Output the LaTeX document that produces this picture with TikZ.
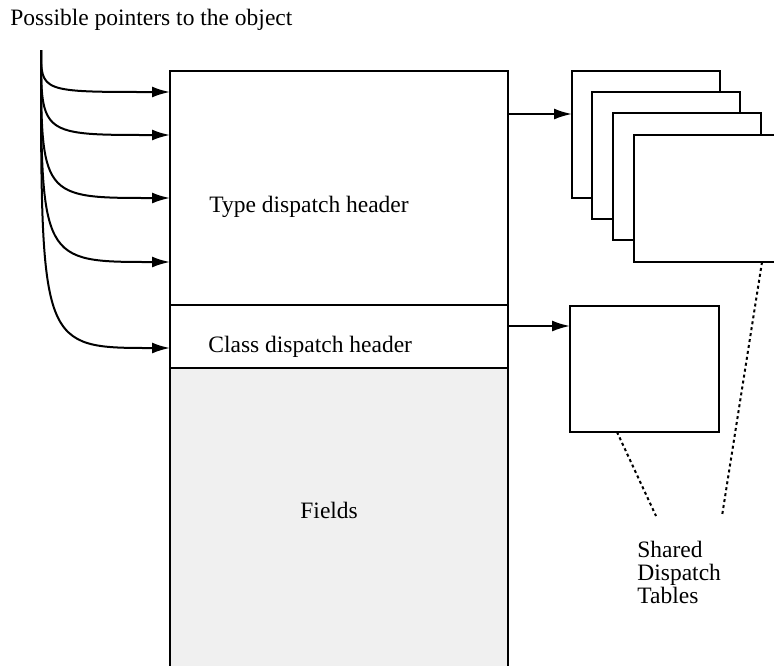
\documentclass[tikz,border=0pt]{standalone}
\usepackage{fontspec}
\setmainfont{Liberation Serif}
\usetikzlibrary{positioning,arrows.meta}
\definecolor{fieldgray}{HTML}{F0F0F0}
\tikzset{part/.style={draw,line width=1pt,inner sep=0pt,outer sep=0pt,anchor=north west,minimum width=169pt}}
\tikzset{dtable/.style={draw,fill=white,line width=1pt,inner sep=0pt,outer sep=0pt,anchor=north west,minimum width=74pt,minimum height=63.5pt}}
\tikzset{txt/.style={inner sep=0pt,anchor=base west,font=\fontsize{11.75}{11.5}\selectfont}}
\tikzset{ptr/.style={-{Latex[length=9pt,width=5.5pt]},line width=1pt}}
\tikzset{share/.style={line width=1pt,dash pattern=on 1.5pt off 1.5pt}}

\begin{document}
\begin{tikzpicture}[x=0.5pt,y=-0.5pt]
    \useasboundingbox (0,0) rectangle (774,665);
    \node (toptxt) [txt] at (10,25) {Possible pointers to the object};

    % the object
    \node (fields) [part,fill=fieldgray,minimum height=166pt] at (170,368) {};
    \node (classhdr) [part,minimum height=31.5pt] at (170,305) {};
    \node (typehdr) [part,minimum height=117pt] at (170,71) {};
    \node (typetxt) [txt] at (209,212) {Type dispatch header};
    \node (classtxt) [txt] at (208,352) {Class dispatch header};
    \node (fieldstxt) [txt] at (300,518) {Fields};

    % pointers
    \coordinate (src) at (41,50);
    \foreach \y in {92,135,198,262}
        \draw [ptr] (src) .. controls (41,\y) .. (typehdr.west |- 0,\y);
    \draw [ptr] (src) .. controls (41,348) .. (classhdr.west |- 0,348);

    % dispatch tables
    \node (tab1) [dtable] at (572,71) {};
    \node (tab2) [dtable] at ([shift={(10pt,-10.5pt)}]tab1.north west) {};
    \node (tab3) [dtable] at ([shift={(10.5pt,-10.5pt)}]tab2.north west) {};
    \node (tab4) [dtable] at ([shift={(10.5pt,-11pt)}]tab3.north west) {};
    \node (cls) [dtable,minimum width=74.5pt,minimum height=63pt] at (570,306) {};

    \draw [ptr] (typehdr.east |- 0,114) -- (tab1.west |- 0,114);
    \draw [ptr] (classhdr.east |- 0,326) -- (cls.west |- 0,326);

    \coordinate (shareL) at (656,516);
    \coordinate (shareR) at (722,516);
    \draw [share] ([xshift=23.5pt]cls.south west) -- (shareL);
    \draw [share] ([xshift=64pt]tab4.south west) -- (shareR);
    \node (sharedtxt) [txt,align=left] at (637,603) {Shared\\Dispatch\\Tables};
\end{tikzpicture}
\end{document}
